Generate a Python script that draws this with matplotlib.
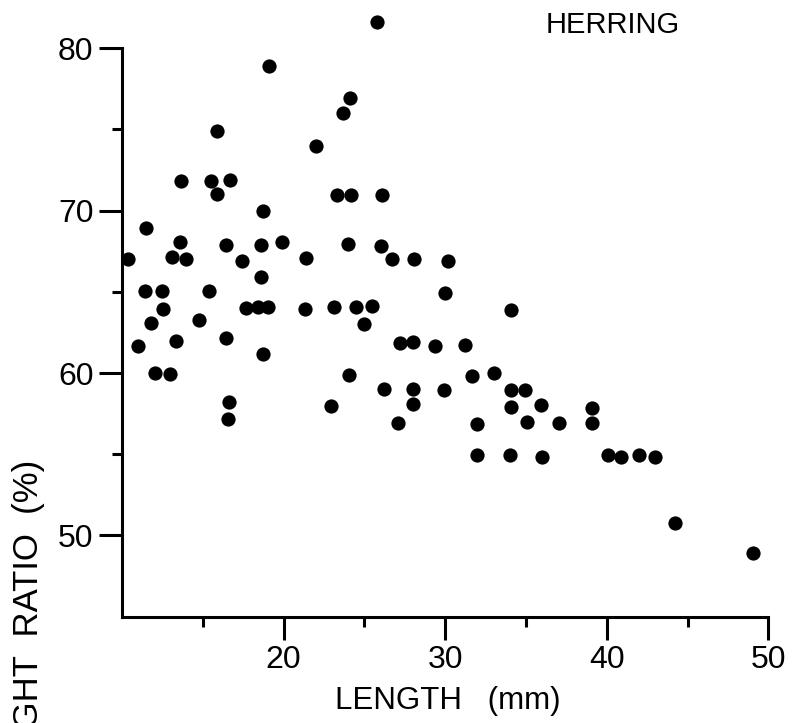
import matplotlib
matplotlib.use("Agg")
import matplotlib.pyplot as plt
from matplotlib.ticker import FixedLocator

plt.rcParams["font.family"] = ["Liberation Sans", "DejaVu Sans"]

# Herring: body length (mm) vs. ratio (%)
length_mm = [
    25.8, 19.1, 24.1, 23.7, 15.9, 22.0, 13.65, 15.5, 16.7, 15.9,
    23.3, 24.2, 26.1, 18.7, 11.5, 13.6, 16.45, 18.6, 19.9, 24.0,
    26.0, 10.4, 13.1, 13.95, 17.4, 21.4, 26.7, 28.1, 30.2, 18.6,
    11.4, 12.45, 15.4, 30.0, 12.55, 17.7, 18.4, 19.05, 21.35, 23.1,
    24.5, 25.45, 34.1, 25.0, 11.8, 14.75, 11.0, 13.35, 16.45, 18.7,
    27.2, 28.0, 29.4, 31.2, 12.05, 13.0, 24.05, 31.65, 33.0, 16.65,
    16.55, 22.95, 26.2, 28.0, 28.0, 29.95, 34.1, 34.95, 34.05, 35.95,
    27.1, 32.0, 35.05, 37.05, 39.1, 39.1, 32.0, 34.0, 36.0, 40.1,
    40.9, 42.0, 43.0, 44.2, 49.05,
]
ratio_pct = [
    81.6, 78.9, 76.95, 76.0, 74.9, 74.0, 71.85, 71.85, 71.9, 71.05,
    70.95, 70.95, 70.95, 70.0, 68.95, 68.1, 67.9, 67.9, 68.05, 67.95,
    67.85, 67.05, 67.15, 67.05, 66.9, 67.1, 67.05, 67.0, 66.9, 65.9,
    65.05, 65.05, 65.05, 64.95, 63.95, 64.0, 64.1, 64.1, 63.95, 64.1,
    64.1, 64.15, 63.9, 63.0, 63.1, 63.25, 61.65, 61.95, 62.15, 61.2,
    61.85, 61.9, 61.65, 61.7, 60.0, 59.95, 59.9, 59.85, 60.0, 58.25,
    57.15, 58.0, 59.0, 59.0, 58.1, 58.95, 58.95, 58.95, 57.9, 58.05,
    56.95, 56.85, 57.0, 56.9, 57.85, 56.9, 54.95, 54.95, 54.85, 54.95,
    54.85, 54.95, 54.85, 50.75, 48.9,
]

x_major = [20, 30, 40, 50]
x_minor = [15, 25, 35, 45]
y_major = [50, 60, 70, 80]
y_minor = [55, 65, 75]

W, H = 792, 723
fig = plt.figure(figsize=(W / 100, H / 100), dpi=100)
ax = fig.add_axes([122 / W, 1 - 616.7 / H, (768.3 - 122) / W, (616.7 - 48.3) / H])

ax.scatter(length_mm, ratio_pct, s=105, c="black", linewidths=0,
           clip_on=False, zorder=3)

ax.set_xlim(10, 50)
ax.set_ylim(45, 80)

for side in ("top", "right"):
    ax.spines[side].set_visible(False)
for side in ("left", "bottom"):
    ax.spines[side].set_linewidth(2.2)
    ax.spines[side].set_capstyle("projecting")

ax.xaxis.set_major_locator(FixedLocator(x_major))
ax.xaxis.set_minor_locator(FixedLocator(x_minor))
ax.yaxis.set_major_locator(FixedLocator(y_major))
ax.yaxis.set_minor_locator(FixedLocator(y_minor))

ax.tick_params(which="major", direction="out", length=16.5, width=2.2,
               labelsize=23, pad=4, color="black")
ax.tick_params(which="minor", direction="out", length=7, width=2.2,
               color="black")

fig.text(613 / W, 1 - 25 / H, "HERRING", ha="center", va="center", fontsize=21)
fig.text(448 / W, 1 - 701 / H, "LENGTH   (mm)", ha="center", va="center",
         fontsize=22.5)
fig.text(29 / W, 1 - 460 / H, "WEIGHT  RATIO  (%)", rotation=90,
         ha="center", va="top", fontsize=25)

fig.savefig("out.png", dpi=100)
